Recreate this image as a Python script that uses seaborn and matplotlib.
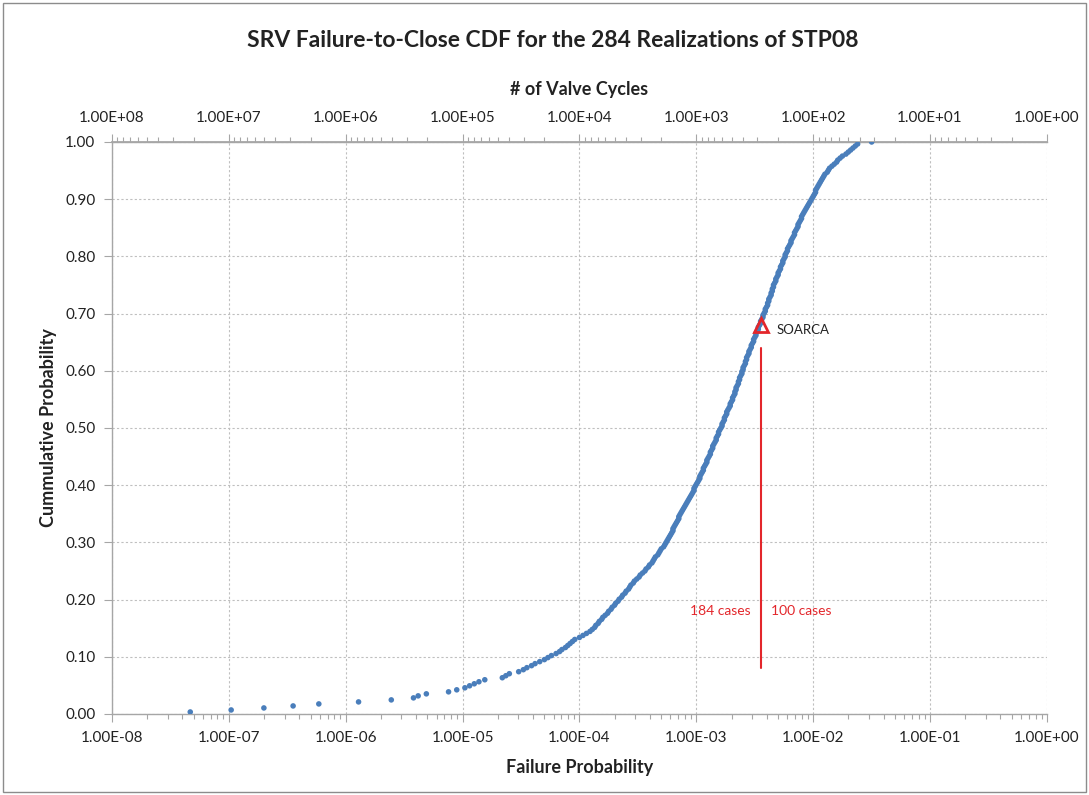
import numpy as np
import pandas as pd
import matplotlib
matplotlib.use("Agg")
import matplotlib.pyplot as plt
import matplotlib.ticker as mticker
from matplotlib.patches import Rectangle
import seaborn as sns

# log10 of SRV failure-to-close probability, one value per realization (284)
log10_failure_prob = [
    -7.33, -6.98, -6.70, -6.45, -6.23, -5.89, -5.61, -5.42, -5.38, -5.31,
    -5.12, -5.05, -4.98, -4.94, -4.90, -4.86, -4.81, -4.66, -4.63, -4.60,
    -4.52, -4.48, -4.45, -4.41, -4.38, -4.34, -4.30, -4.27, -4.24, -4.20,
    -4.17, -4.15, -4.12, -4.10, -4.08, -4.06, -4.04, -4.00, -3.97, -3.94,
    -3.91, -3.89, -3.87, -3.86, -3.84, -3.83, -3.81, -3.80, -3.78, -3.76,
    -3.75, -3.73, -3.72, -3.70, -3.69, -3.67, -3.66, -3.64, -3.63, -3.61,
    -3.60, -3.58, -3.57, -3.56, -3.54, -3.53, -3.51, -3.49, -3.48, -3.46,
    -3.44, -3.43, -3.41, -3.40, -3.38, -3.37, -3.36, -3.35, -3.33, -3.32,
    -3.31, -3.30, -3.28, -3.27, -3.26, -3.25, -3.24, -3.23, -3.22, -3.21,
    -3.20, -3.20, -3.19, -3.18, -3.17, -3.16, -3.15, -3.15, -3.14, -3.13,
    -3.12, -3.11, -3.10, -3.09, -3.08, -3.07, -3.06, -3.05, -3.04, -3.03,
    -3.02, -3.02, -3.01, -3.00, -2.99, -2.98, -2.97, -2.97, -2.96, -2.95,
    -2.94, -2.94, -2.93, -2.92, -2.91, -2.91, -2.90, -2.89, -2.88, -2.88,
    -2.87, -2.86, -2.86, -2.85, -2.84, -2.83, -2.83, -2.82, -2.81, -2.81,
    -2.80, -2.79, -2.78, -2.78, -2.77, -2.76, -2.76, -2.75, -2.74, -2.74,
    -2.73, -2.72, -2.71, -2.71, -2.70, -2.69, -2.69, -2.68, -2.67, -2.67,
    -2.66, -2.66, -2.65, -2.64, -2.64, -2.63, -2.63, -2.62, -2.61, -2.61,
    -2.60, -2.60, -2.59, -2.58, -2.58, -2.57, -2.57, -2.56, -2.55, -2.55,
    -2.54, -2.53, -2.53, -2.52, -2.51, -2.51, -2.50, -2.49, -2.49, -2.48,
    -2.47, -2.47, -2.46, -2.45, -2.45, -2.44, -2.43, -2.43, -2.42, -2.41,
    -2.41, -2.40, -2.39, -2.39, -2.38, -2.38, -2.37, -2.36, -2.36, -2.35,
    -2.35, -2.34, -2.34, -2.33, -2.32, -2.32, -2.31, -2.30, -2.30, -2.29,
    -2.28, -2.28, -2.27, -2.26, -2.26, -2.25, -2.24, -2.24, -2.23, -2.22,
    -2.22, -2.21, -2.20, -2.19, -2.19, -2.18, -2.17, -2.16, -2.16, -2.15,
    -2.14, -2.13, -2.13, -2.12, -2.11, -2.10, -2.10, -2.09, -2.08, -2.07,
    -2.06, -2.05, -2.04, -2.03, -2.02, -2.01, -2.00, -1.99, -1.98, -1.98,
    -1.97, -1.96, -1.95, -1.94, -1.93, -1.92, -1.91, -1.90, -1.88, -1.87,
    -1.86, -1.84, -1.82, -1.80, -1.79, -1.77, -1.75, -1.72, -1.70, -1.68,
    -1.66, -1.64, -1.62, -1.50,
]

# SOARCA reference point and the divider between the case counts
soarca_prob = 3.6e-3
soarca_cdf = 0.68
divider_prob = 3.55e-3
divider_span = (0.08, 0.64)
cases_below = "184 cases"
cases_above = "100 cases"

bottom_ticks = [1e-8, 1e-7, 1e-6, 1e-5, 1e-4, 1e-3, 1e-2, 1e-1, 1e0]
top_ticks = [1e8, 1e7, 1e6, 1e5, 1e4, 1e3, 1e2, 1e1, 1e0]
y_ticks = [0.0, 0.1, 0.2, 0.3, 0.4, 0.5, 0.6, 0.7, 0.8, 0.9, 1.0]

title = "SRV Failure-to-Close CDF for the 284 Realizations of STP08"
top_label = "# of Valve Cycles"
x_label = "Failure Probability"
y_label = "Cummulative Probability"

# Empirical CDF from the realizations
df = pd.DataFrame({"prob": np.power(10.0, log10_failure_prob)})
df["cdf"] = df["prob"].rank(method="first") / len(df)

sns.set_theme(style="white")
plt.rcParams["font.family"] = ["Lato", "DejaVu Sans"]

BLUE = "#4A7EBB"
RED = "#E3262B"
AXIS_GRAY = "#A6A6A6"
GRID_GRAY = "#BFBFBF"

fig = plt.figure(figsize=(10.89, 7.95), dpi=100)
ax = fig.add_axes([0.1028, 0.1019, 0.8586, 0.7195])

sns.scatterplot(data=df, x="prob", y="cdf", ax=ax, s=16, color=BLUE,
                edgecolor="none", linewidth=0, zorder=3)

ax.set_xscale("log")
ax.set_xlim(1e-8, 1e0)
ax.set_ylim(0, 1)

ax.set_xticks(bottom_ticks)
ax.xaxis.set_major_formatter(mticker.FuncFormatter(lambda v, p: f"{v:.2E}"))
ax.xaxis.set_minor_locator(mticker.LogLocator(base=10, subs=np.arange(2, 10), numticks=100))
ax.xaxis.set_minor_formatter(mticker.NullFormatter())
ax.set_yticks(y_ticks)
ax.yaxis.set_major_formatter(mticker.FuncFormatter(lambda v, p: f"{v:.2f}"))

ax.grid(True, which="major", color=GRID_GRAY, linestyle=(0, (2, 2)), linewidth=0.8)
ax.set_axisbelow(True)

for side in ["left", "bottom", "top"]:
    ax.spines[side].set_visible(True)
    ax.spines[side].set_color(AXIS_GRAY)
    ax.spines[side].set_linewidth(1.0)
ax.spines["right"].set_visible(False)

ax.tick_params(axis="x", which="major", direction="out", length=6, width=0.8,
               color=AXIS_GRAY, labelsize=11, labelcolor="#222222", pad=6, bottom=True)
ax.tick_params(axis="x", which="minor", direction="out", length=3.5, width=0.8,
               color=AXIS_GRAY, bottom=True)
ax.tick_params(axis="y", which="major", direction="out", length=6, width=0.8,
               color=AXIS_GRAY, labelsize=11, labelcolor="#222222", pad=6, left=True)

ax.set_xlabel(x_label, fontsize=13, fontweight="bold", labelpad=10, color="#222222")
ax.set_ylabel(y_label, fontsize=13, fontweight="bold", labelpad=6, color="#222222")

# Secondary axis: number of valve cycles = 1 / failure probability
def inverse(x):
    x = np.asarray(x, dtype=float)
    with np.errstate(divide="ignore"):
        return 1.0 / np.where(x == 0, 1e-300, x)

sec = ax.secondary_xaxis("top", functions=(inverse, inverse))
sec.set_xticks(top_ticks)
sec.xaxis.set_major_formatter(mticker.FuncFormatter(lambda v, p: f"{v:.2E}"))
sec.xaxis.set_minor_locator(mticker.LogLocator(base=10, subs=np.arange(2, 10), numticks=100))
sec.xaxis.set_minor_formatter(mticker.NullFormatter())
sec.spines["top"].set_color(AXIS_GRAY)
sec.tick_params(axis="x", which="major", direction="out", length=6, width=0.8,
                color=AXIS_GRAY, labelsize=11, labelcolor="#222222", pad=6)
sec.tick_params(axis="x", which="minor", direction="out", length=3.5, width=0.8,
                color=AXIS_GRAY)
sec.set_xlabel(top_label, fontsize=13, fontweight="bold", labelpad=12, color="#222222")

# SOARCA marker and the split of the realizations
ax.plot([soarca_prob], [soarca_cdf], marker="^", markersize=10, markerfacecolor="none",
        markeredgecolor=RED, markeredgewidth=2, linestyle="none", zorder=4)
ax.text(soarca_prob * 1.35, soarca_cdf - 0.008, "SOARCA", fontsize=9.5,
        color="#222222", va="center", ha="left")
ax.plot([divider_prob, divider_prob], list(divider_span), color=RED, linewidth=1.5, zorder=4)
ax.text(divider_prob / 1.22, 0.18, cases_below, color=RED, fontsize=10,
        ha="right", va="center")
ax.text(divider_prob * 1.22, 0.18, cases_above, color=RED, fontsize=10,
        ha="left", va="center")

fig.text(0.508, 0.949, title, fontsize=16.5, fontweight="bold", ha="center",
         va="center", color="#222222")

fig.patches.append(Rectangle((0.003, 0.004), 0.994, 0.992, transform=fig.transFigure,
                             fill=False, edgecolor="#8C8C8C", linewidth=1.0))

fig.savefig("out.png", dpi=100)
